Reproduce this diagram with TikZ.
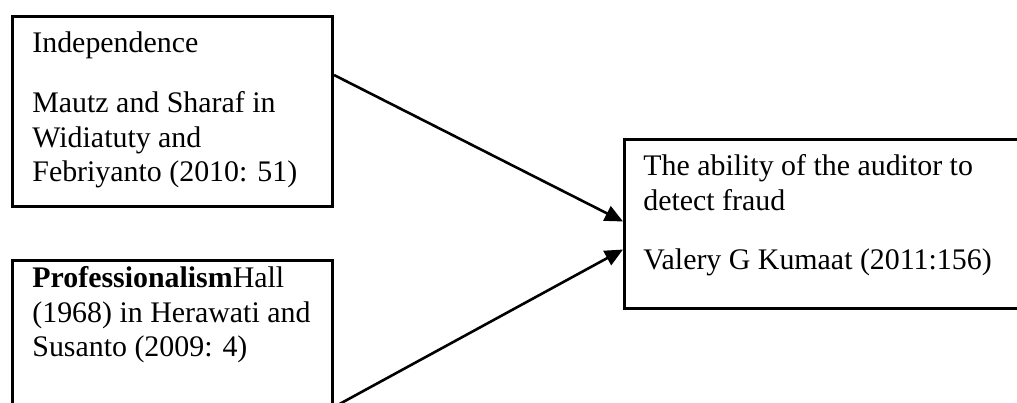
\documentclass[tikz,border=0pt]{standalone}
\usepackage{fontspec}
\setmainfont{Liberation Serif}
\usepackage{tikz}
\usetikzlibrary{arrows.meta}
\tikzstyle{varbox} = [rectangle, draw=black, line width=1.5bp, inner sep=0pt, anchor=north west]
\tikzstyle{vartext} = [anchor=base west, align=left, inner sep=0pt, font={\fontsize{15}{17.5}\selectfont}]
\tikzstyle{arrow} = [line width=1.3bp, -{Triangle[length=9bp,width=8bp]}]

\begin{document}
\begin{tikzpicture}[x=0.5bp, y=-0.5bp]
\useasboundingbox (0,0) rectangle (1017,403);
\clip (0,0) rectangle (1017,403);
\node (indep) [varbox, minimum width=160bp, minimum height=95bp] at (11,15) {};
\node (prof) [varbox, minimum width=160bp, minimum height=72.5bp] at (11,259) {};
\node (ability) [varbox, minimum width=200bp, minimum height=84.5bp] at (623,138) {};
% text placed by the baseline of its last line
\node (indeptext) [vartext] at (32,182) {Independence\\[12.5bp]
Mautz and Sharaf in\\
Widiatuty and\\
Febriyanto (2010: 51)};
\node (proftext) [vartext] at (32,357) {\textbf{Professionalism}Hall\\
(1968) in Herawati and\\
Susanto (2009: 4)};
\node (abilitytext) [vartext] at (643,270) {The ability of the auditor to\\
detect fraud\\[12.5bp]
Valery G Kumaat (2011:156)};
\draw [arrow] ([yshift=-30bp]indep.north east) -- ([yshift=1.25bp]ability.west);
\draw [arrow] (prof.south east) -- ([yshift=-12.75bp]ability.west);
\end{tikzpicture}
\end{document}
